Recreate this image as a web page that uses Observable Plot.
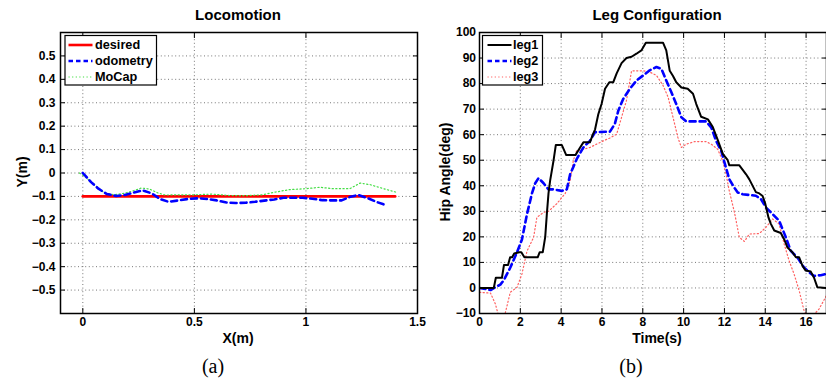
<!DOCTYPE html>
<html><head><meta charset="utf-8">
<script src="https://cdn.jsdelivr.net/npm/d3@7"></script>
<script src="https://cdn.jsdelivr.net/npm/@observablehq/plot@0.6"></script>
<style>
body{margin:0;background:#fff;}
#wrap{position:relative;width:826px;height:381px;overflow:hidden;background:#fff;font-family:"Liberation Sans",Arial,sans-serif;}
</style></head><body><div id="wrap"></div>
<script>
// ---------- Data: Locomotion (a) ----------
const desiredX = [0, 1.4];
const desiredY = [-0.1, -0.1];
const odomX = [0.0, 0.037, 0.07, 0.108, 0.15, 0.188, 0.226, 0.268, 0.309, 0.346, 0.384, 0.43, 0.471, 0.516, 0.557, 0.6, 0.644, 0.685, 0.73, 0.772, 0.813, 0.858, 0.899, 0.941, 0.986, 1.029, 1.074, 1.119, 1.16, 1.2, 1.235, 1.276, 1.318, 1.36];
const odomY = [0.0, -0.039, -0.067, -0.09, -0.098, -0.094, -0.084, -0.074, -0.087, -0.111, -0.123, -0.117, -0.111, -0.108, -0.111, -0.117, -0.126, -0.128, -0.127, -0.123, -0.118, -0.113, -0.106, -0.106, -0.106, -0.11, -0.116, -0.117, -0.117, -0.101, -0.094, -0.107, -0.124, -0.138];
const mocapX = [-0.015, 0.007, 0.052, 0.098, 0.143, 0.188, 0.226, 0.263, 0.3, 0.339, 0.369, 0.504, 0.58, 0.655, 0.73, 0.806, 0.866, 0.926, 1.0, 1.062, 1.122, 1.197, 1.243, 1.288, 1.348, 1.408];
const mocapY = [0.0, -0.014, -0.05, -0.086, -0.093, -0.086, -0.076, -0.064, -0.069, -0.086, -0.094, -0.093, -0.09, -0.096, -0.097, -0.093, -0.081, -0.071, -0.067, -0.061, -0.067, -0.067, -0.043, -0.05, -0.067, -0.083];
const locXTicks = [0, 0.5, 1, 1.5];
const locYTicks = [-0.5, -0.4, -0.3, -0.2, -0.1, 0, 0.1, 0.2, 0.3, 0.4, 0.5];

// ---------- Data: Leg Configuration (b) ----------
const leg1T = [0, 0.7, 0.8, 1.1, 1.2, 1.4, 1.5, 1.6, 1.7, 1.95, 2.05, 2.2, 2.85, 2.95, 3.1, 3.22, 3.3, 3.38, 3.46, 3.63, 3.74, 4.03, 4.25, 4.7, 4.93, 5.09, 5.41, 5.55, 5.66, 5.82, 5.98, 6.15, 6.36, 6.55, 6.72, 6.96, 7.2, 7.45, 7.69, 7.93, 8.15, 8.99, 9.15, 9.32, 9.48, 9.64, 9.89, 10.2, 10.46, 10.62, 10.86, 11.19, 11.43, 11.67, 11.92, 12.16, 12.24, 12.73, 13.06, 13.22, 13.54, 13.71, 13.87, 14.0, 14.16, 14.28, 14.44, 14.76, 14.93, 15.09, 15.33, 15.5, 15.66, 15.82, 15.98, 16.23, 16.39, 16.55, 17];
const leg1 = [0, 0, 4, 4, 9, 9, 12, 12, 13.5, 14, 14, 12, 12, 14, 14, 20, 29, 37, 42, 50, 56, 56, 52, 52, 55, 57, 57, 60, 62, 68, 72, 78, 80.5, 80.5, 84, 88, 90, 90.5, 91.7, 93, 96, 96, 93, 85, 83, 80.5, 78.5, 78, 76, 72, 67, 66, 63, 58, 52.5, 50, 48, 48, 44.5, 42.5, 37.5, 37, 36, 33, 27.5, 25, 22.5, 21.5, 19, 15.8, 14, 12, 12, 8.7, 6.8, 6.4, 4, 0.3, 0];
const leg2T = [0, 0.54, 0.78, 1.02, 1.19, 1.51, 1.84, 2.08, 2.33, 2.57, 2.73, 2.89, 3.14, 3.38, 3.63, 4.03, 4.28, 4.44, 4.76, 5.09, 5.41, 5.66, 6.39, 6.63, 6.8, 7.04, 7.37, 7.69, 8.02, 8.34, 8.67, 8.91, 9.15, 9.4, 9.64, 9.89, 10.13, 11.1, 11.35, 11.59, 11.84, 12.05, 12.24, 12.49, 12.65, 12.89, 13.54, 13.79, 14.03, 14.36, 14.68, 15.01, 15.25, 15.58, 15.9, 16.15, 16.39, 16.72, 17];
const leg2 = [0, -0.8, 0.3, 1.3, 3, 8, 14, 19, 29, 37, 41, 43, 41, 38.6, 38.6, 38, 38.6, 44.5, 50.4, 55, 57.6, 61, 61.2, 64.2, 69.4, 74, 78, 81.2, 83.2, 85.2, 86.5, 85.8, 81.2, 76.6, 72, 66.8, 65.2, 65.2, 62.9, 57.6, 53.7, 47.8, 42.5, 39.2, 37.4, 36.7, 36.1, 34.8, 31.5, 28.9, 26.3, 19.8, 14.5, 11.9, 8, 6.1, 4.7, 5, 5.5];
const leg3T = [0, 0.54, 0.78, 0.89, 1.08, 1.27, 1.51, 1.84, 2.08, 2.33, 2.65, 2.81, 3.14, 3.38, 3.79, 4.2, 4.44, 4.6, 4.76, 5.09, 5.41, 5.74, 6.07, 6.39, 6.72, 6.96, 7.2, 7.45, 8.02, 8.34, 8.67, 8.99, 9.24, 9.48, 9.72, 9.89, 10.13, 10.54, 11.1, 11.35, 11.67, 11.92, 12.08, 12.24, 12.49, 12.73, 12.98, 13.22, 13.71, 14.03, 14.36, 14.68, 14.93, 15.17, 15.41, 15.66, 15.9, 16.07, 16.31, 16.63, 17];
const leg3 = [-1.7, -2, -6.3, -9.6, -13, -9.6, -1.7, 0.3, 5.5, 14.5, 19.8, 27.6, 29.6, 30, 33, 37, 42, 50, 53.7, 54.3, 55, 56.3, 57.6, 58.7, 60.2, 66.8, 73.4, 85, 85, 84.5, 83.2, 79.3, 74.7, 66.8, 58.9, 55, 56.3, 57.3, 57.3, 56.3, 54.3, 49.7, 44.5, 37.9, 29.6, 19.8, 18.2, 21.1, 21.3, 23.7, 27, 25, 17.1, 10.6, 5.5, -1, -8.9, -11, -11, -8.3, -3];
const timeTicks = [0, 2, 4, 6, 8, 10, 12, 14, 16];
const angleTicks = [-10, 0, 10, 20, 30, 40, 50, 60, 70, 80, 90, 100];

// ---------- helpers ----------
const zip = (xs, ys) => xs.map((x, i) => ({x, y: ys[i]}));
const fmt = d => (d < 0 ? "\u2212" : "") + String(Math.abs(d));
const gridStyle = {stroke: "#555", strokeOpacity: 1, strokeWidth: 0.8, strokeDasharray: "1,2.6"};
const plotStyle = {fontFamily: "'Liberation Sans', Arial, sans-serif", fontSize: "12px", fontWeight: "bold", color: "black", background: "transparent", overflow: "visible"};
const dashed = "6,4";
const dotted = "1.2,2.4";
const greenDot = "#44dd44";
const redDot = "#ff6060";

function boxMarks(xt, yt, padL, padB) {
  const blank = () => "";
  return [
    Plot.frame({stroke: "black", strokeWidth: 1.5}),
    Plot.axisX(xt, {anchor: "bottom", tickSize: 5, dy: -5, tickFormat: blank, label: null}),
    Plot.axisX(xt, {anchor: "top", tickSize: 5, dy: 5, tickFormat: blank, label: null}),
    Plot.axisY(yt, {anchor: "left", tickSize: 5, dx: 5, tickFormat: blank, label: null}),
    Plot.axisY(yt, {anchor: "right", tickSize: 5, dx: -5, tickFormat: blank, label: null}),
    Plot.axisX(xt, {anchor: "bottom", tickSize: 0, tickPadding: padB, tickFormat: fmt, label: null, fill: "black"}),
    Plot.axisY(yt, {anchor: "left", tickSize: 0, tickPadding: padL, tickFormat: fmt, label: null, fill: "black"})
  ];
}

const wrap = document.getElementById("wrap");

// ---------- (a) Locomotion ----------
const left = Plot.plot({
  width: 420, height: 381,
  marginLeft: 60, marginRight: 3, marginTop: 32, marginBottom: 68,
  style: plotStyle,
  x: {domain: [-0.1, 1.5]},
  y: {domain: [-0.6, 0.6]},
  marks: [
    Plot.gridX(locXTicks, gridStyle),
    Plot.gridY(locYTicks, gridStyle),
    Plot.line(zip(desiredX, desiredY), {x: "x", y: "y", stroke: "#ff0000", strokeWidth: 2.6}),
    Plot.line(zip(mocapX, mocapY), {x: "x", y: "y", stroke: greenDot, strokeWidth: 1.2, strokeDasharray: dotted, clip: true}),
    Plot.line(zip(odomX, odomY), {x: "x", y: "y", stroke: "#0000ff", strokeWidth: 2.6, strokeDasharray: dashed, clip: true}),
    ...boxMarks(locXTicks, locYTicks, 5, 4)
  ]
});
left.style.position = "absolute"; left.style.left = "0px"; left.style.top = "0px";
wrap.appendChild(left);

// ---------- (b) Leg Configuration ----------
const right = Plot.plot({
  width: 406, height: 381,
  marginLeft: 59, marginRight: 0, marginTop: 32, marginBottom: 68,
  style: plotStyle,
  x: {domain: [0, 17]},
  y: {domain: [-10, 100]},
  marks: [
    Plot.gridX(timeTicks, gridStyle),
    Plot.gridY(angleTicks, gridStyle),
    Plot.line(zip(leg3T, leg3), {x: "x", y: "y", stroke: redDot, strokeWidth: 1.2, strokeDasharray: dotted, clip: true}),
    Plot.line(zip(leg2T, leg2), {x: "x", y: "y", stroke: "#0000ff", strokeWidth: 2.6, strokeDasharray: dashed, clip: true}),
    Plot.line(zip(leg1T, leg1), {x: "x", y: "y", stroke: "#000000", strokeWidth: 2, clip: true}),
    ...boxMarks(timeTicks, angleTicks, 3.5, 4)
  ]
});
right.style.position = "absolute"; right.style.left = "420px"; right.style.top = "0px";
wrap.appendChild(right);

// ---------- overlay: titles, axis labels, legends, captions ----------
const ov = d3.create("svg").attr("width", 826).attr("height", 381)
  .style("position", "absolute").style("left", "0px").style("top", "0px")
  .style("font-family", "'Liberation Sans', Arial, sans-serif").style("font-weight", "bold");

function txt(x, y, s, size, opts = {}) {
  const t = ov.append("text").attr("x", x).attr("y", y).attr("font-size", size)
    .attr("text-anchor", opts.anchor || "middle").attr("fill", "black").text(s);
  if (opts.rotate) t.attr("transform", `rotate(-90 ${x} ${y})`).attr("dominant-baseline", "central");
  if (opts.central) t.attr("dominant-baseline", "central");
  if (opts.serif) t.attr("font-family", "'Liberation Serif', 'Times New Roman', serif").attr("font-weight", "normal");
  return t;
}
txt(238, 20, "Locomotion", 15);
txt(657, 20, "Leg Configuration", 15);
txt(238, 343, "X(m)", 14);
txt(657, 343, "Time(s)", 14);
txt(22, 172, "Y(m)", 14, {rotate: true});
txt(445, 172, "Hip Angle(deg)", 14, {rotate: true});
txt(213, 373, "(a)", 20, {serif: true});
txt(631, 373, "(b)", 20, {serif: true});

function legend(bx, by, bw, bh, lx1, lx2, tx, items) {
  ov.append("rect").attr("x", bx).attr("y", by).attr("width", bw).attr("height", bh)
    .attr("fill", "white").attr("stroke", "black").attr("stroke-width", 1.2);
  items.forEach(it => {
    ov.append("line").attr("x1", lx1).attr("x2", lx2).attr("y1", it.y).attr("y2", it.y)
      .attr("stroke", it.color).attr("stroke-width", it.w).attr("stroke-dasharray", it.dash || null);
    txt(tx, it.y, it.label, 12.7, {anchor: "start", central: true});
  });
}
legend(65, 35.5, 91.5, 49.5, 68.5, 92.5, 95, [
  {label: "desired", color: "#ff0000", w: 2.6, y: 45},
  {label: "odometry", color: "#0000ff", w: 2.6, dash: "4.5,3", y: 61},
  {label: "MoCap", color: greenDot, w: 1.2, dash: dotted, y: 77}
]);
legend(482.5, 35.5, 60, 49.5, 487.5, 511.5, 513, [
  {label: "leg1", color: "#000000", w: 2, y: 45},
  {label: "leg2", color: "#0000ff", w: 2.6, dash: "4.5,3", y: 61},
  {label: "leg3", color: redDot, w: 1.2, dash: dotted, y: 77}
]);
wrap.appendChild(ov.node());
</script>
</body></html>
